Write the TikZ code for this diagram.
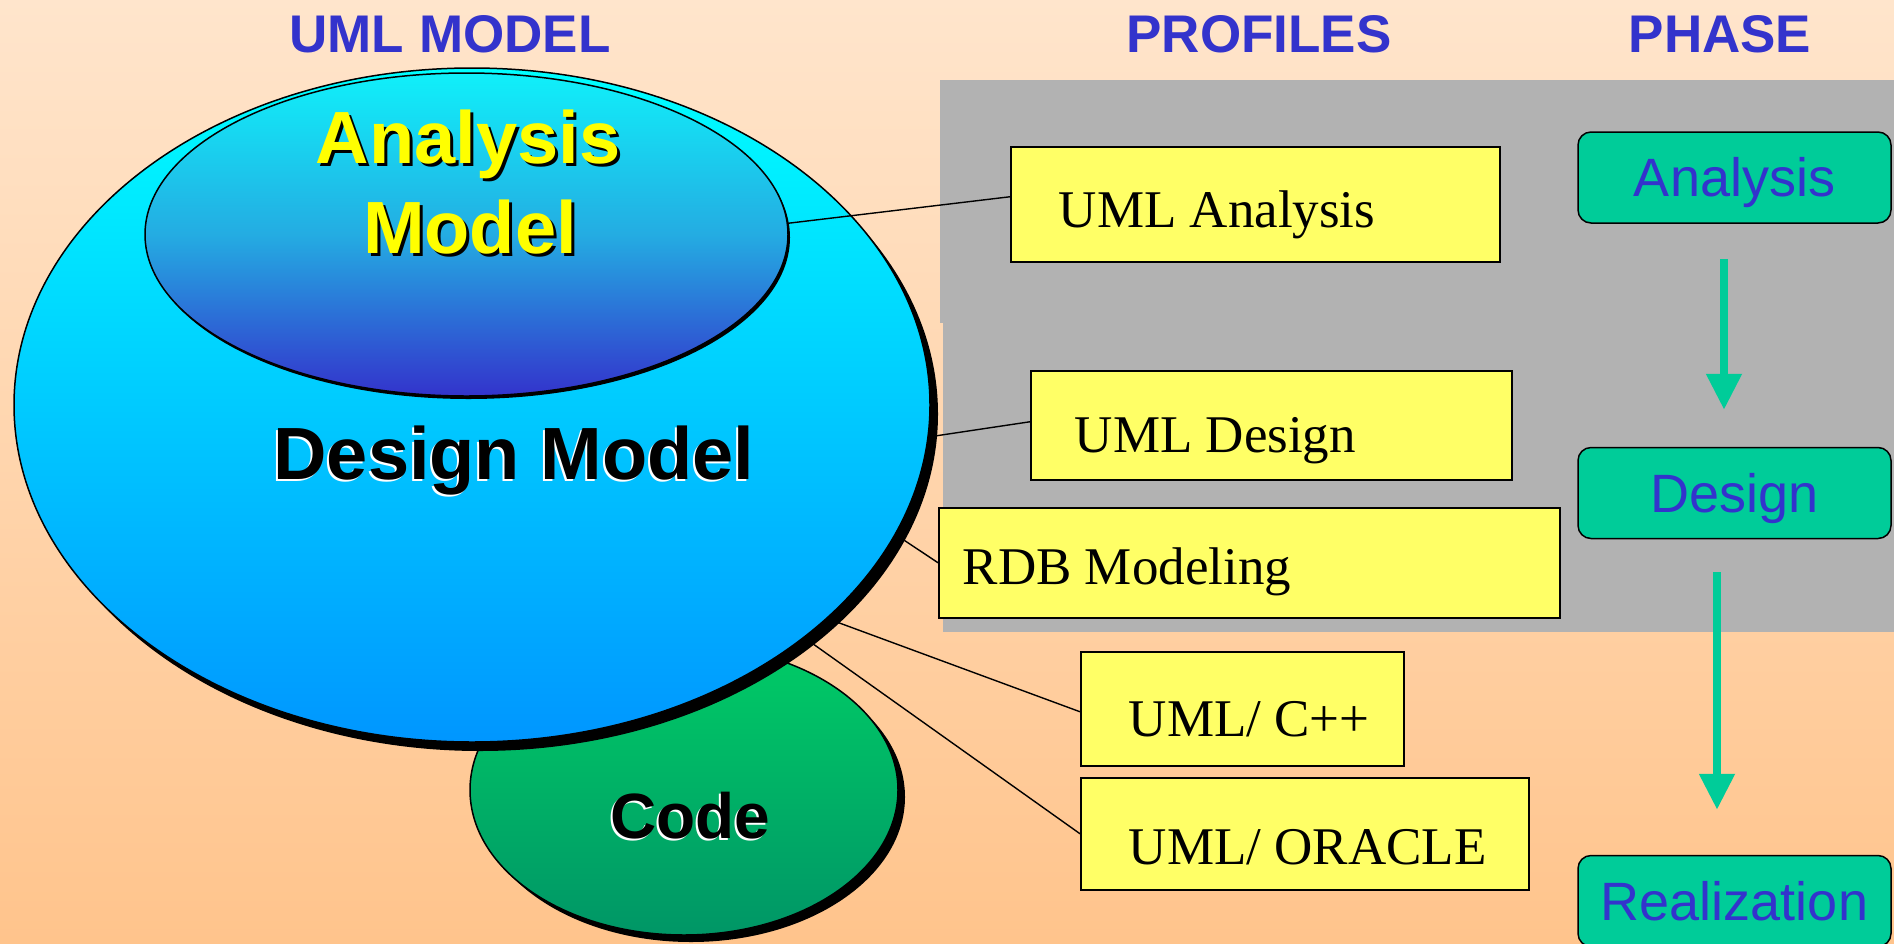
\documentclass[tikz,border=0pt]{standalone}
\usepackage{fontspec}
\setmainfont{Liberation Serif}
\newfontfamily\arialfont{Liberation Sans}
\usetikzlibrary{shapes.geometric,arrows.meta,shadows}

\definecolor{bgtop}{RGB}{255,229,204}
\definecolor{bgbot}{RGB}{255,196,140}
\definecolor{titleblue}{RGB}{51,51,204}
\definecolor{panelgray}{RGB}{178,178,178}
\definecolor{boxyellow}{RGB}{255,255,102}
\definecolor{phasegreen}{RGB}{0,204,153}
\definecolor{dmtop}{RGB}{0,255,255}
\definecolor{dmbot}{RGB}{0,150,255}
\definecolor{amtop}{RGB}{16,240,250}
\definecolor{ammid}{RGB}{36,172,226}
\definecolor{ambot}{RGB}{51,51,204}
\definecolor{codetop}{RGB}{0,204,102}
\definecolor{codebot}{RGB}{0,150,102}
\definecolor{txtyellow}{RGB}{255,255,0}

\newcommand\shtext[4]{\makebox[0pt][l]{\kern#2\raisebox{#3}{\textcolor{#1}{#4}}}#4}

\begin{document}
\begin{tikzpicture}[x=1pt,y=-1pt,
  title/.style={anchor=base,inner sep=0pt,text=titleblue,
    font=\arialfont\bfseries\fontsize{53}{60}\selectfont},
  blob/.style={ellipse,inner sep=0pt,draw=black,line width=1.5pt},
  bigtext/.style={anchor=base,inner sep=0pt,
    font=\arialfont\bfseries\fontsize{74}{80}\selectfont},
  pbox/.style={draw=black,line width=1.5pt,fill=boxyellow,anchor=north west,
    font=\fontsize{53}{60}\selectfont,text depth=0pt,inner ysep=0pt},
  phasebox/.style={draw=black,line width=1.5pt,fill=phasegreen,rounded corners=13pt,
    minimum width=313pt,minimum height=91pt,inner sep=0pt,text=titleblue,
    font=\arialfont\fontsize{54}{60}\selectfont,text height=38.5pt,text depth=0pt},
  conn/.style={draw=black,line width=1.4pt},
  parrow/.style={draw=phasegreen,line width=8pt,-{Triangle[width=34pt,length=36pt]}}
]
\useasboundingbox (0,0) rectangle (1894,943);
\begin{scope}
\clip (0,0) rectangle (1894,943);
\fill[top color=bgtop,bottom color=bgbot] (0,0) rectangle (1894,943);
\fill[panelgray] (940,80) rectangle (1894,323);
\fill[panelgray] (943,323) rectangle (1894,632);

% titles
\node[title] (t1) at (450,52) {UML MODEL};
\node[title] (t2) at (1259,52) {PROFILES};
\node[title] (t3) at (1720,52) {PHASE};

% ellipses
\node[blob,minimum width=428pt,minimum height=290pt,top color=codetop,bottom color=codebot,
  drop shadow={shadow xshift=7pt,shadow yshift=-7pt,opacity=1,fill=black}] (code) at (684,790) {};
\node[blob,minimum width=916pt,minimum height=674pt,top color=dmtop,bottom color=dmbot,
  drop shadow={shadow xshift=8pt,shadow yshift=-9pt,opacity=1,fill=black}] (dm) at (472,405) {};
\node[blob,minimum width=643pt,minimum height=323pt,top color=amtop,bottom color=ambot,middle color=ammid,
  drop shadow={shadow xshift=2pt,shadow yshift=-3pt,opacity=1,fill=black}] (am) at (466.5,234.5) {};

% ellipse labels
\node[bigtext,text=txtyellow] (amt1) at (468,163) {\shtext{black}{3pt}{-3pt}{Analysis}};
\node[bigtext,text=txtyellow] (amt2) at (470,253) {\shtext{black}{3pt}{-3pt}{Model}};
\node[bigtext,text=black] (dmt) at (514,479) {\shtext{white}{-2pt}{-2pt}{Design Model}};
\node[bigtext,text=black,font=\arialfont\bfseries\fontsize{64}{70}\selectfont] (codet) at (690,838) {\shtext{white}{-2pt}{-2pt}{Code}};

% profile boxes
\node[pbox,inner xsep=48pt,minimum height=115pt,text height=47pt] (ua) at (1010,146) {\makebox[393pt][l]{UML Analysis}};
\node[pbox,inner xsep=44pt,minimum height=109pt,text height=55pt] (ud) at (1030,370) {\makebox[393pt][l]{UML Design}};
\node[pbox,inner xsep=24pt,minimum height=110pt,text height=44pt] (rdb) at (938,507) {\makebox[573pt][l]{RDB Modeling}};
\node[pbox,inner xsep=48pt,minimum height=114pt,text height=56pt] (cpp) at (1080,651) {\makebox[227pt][l]{UML/ C++}};
\node[pbox,inner xsep=48pt,minimum height=112pt,text height=62pt] (ora) at (1080,777) {\makebox[352pt][l]{UML/ ORACLE}};

% connectors
\draw[conn] (am.2) -- ([yshift=7.5pt]ua.west);
\draw[conn] (dm.356) -- ([yshift=3.5pt]ud.west);
\draw[conn] (dm.343) -- (rdb.west);
\draw[conn] (dm.329) -- ([yshift=-3pt]cpp.west);
\draw[conn] (dm.325) -- (ora.west);

% phases
\node[phasebox] (pa) at (1734.5,177.5) {Analysis};
\node[phasebox] (pd) at (1734.5,493) {Design};
\node[phasebox] (pr) at (1734.5,901) {Realization};

\draw[parrow,shorten <=35pt,shorten >=37pt] ([xshift=-10.5pt]pa.south) -- ([xshift=-10.5pt]pd.north);
\draw[parrow,shorten <=33pt,shorten >=45pt] ([xshift=-17.5pt]pd.south) -- ([xshift=-17.5pt]pr.north);
\end{scope}
\end{tikzpicture}
\end{document}
